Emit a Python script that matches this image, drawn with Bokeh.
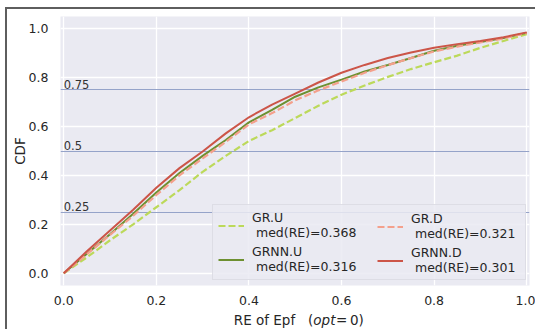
from jinja2 import Template
from bokeh.plotting import figure
from bokeh.layouts import column
from bokeh.models import (Legend, LegendItem, FixedTicker, NumeralTickFormatter, Range1d,
                          ColumnDataSource)
from bokeh.embed import file_html
from bokeh.resources import INLINE
from bokeh.core.properties import value

# Relative error grid and empirical CDF values of each estimator
re_grid = [0.00, 0.05, 0.10, 0.15, 0.20, 0.25, 0.30, 0.35, 0.40, 0.45, 0.50,
           0.55, 0.60, 0.65, 0.70, 0.75, 0.80, 0.85, 0.90, 0.95, 1.00]

cdf_gr_u = [0.000, 0.065, 0.135, 0.200, 0.270, 0.340, 0.415, 0.480, 0.541, 0.585, 0.635,
            0.685, 0.730, 0.768, 0.803, 0.835, 0.863, 0.890, 0.922, 0.950, 0.978]
cdf_grnn_u = [0.000, 0.080, 0.160, 0.243, 0.330, 0.410, 0.480, 0.545, 0.617, 0.668, 0.722,
              0.760, 0.792, 0.825, 0.852, 0.880, 0.910, 0.930, 0.946, 0.962, 0.983]
cdf_gr_d = [0.000, 0.078, 0.157, 0.235, 0.320, 0.400, 0.470, 0.537, 0.609, 0.655, 0.707,
            0.748, 0.784, 0.820, 0.851, 0.880, 0.907, 0.927, 0.944, 0.960, 0.983]
cdf_grnn_d = [0.000, 0.090, 0.175, 0.260, 0.350, 0.430, 0.498, 0.572, 0.638, 0.690, 0.735,
              0.780, 0.820, 0.852, 0.880, 0.903, 0.922, 0.937, 0.950, 0.965, 0.985]

series_names = ["GR.U", "GRNN.U", "GR.D", "GRNN.D"]
medians = [0.368, 0.316, 0.321, 0.301]
quartile_levels = [0.25, 0.5, 0.75]

x_ticks = [0.0, 0.2, 0.4, 0.6, 0.8, 1.0]
y_ticks = [0.0, 0.2, 0.4, 0.6, 0.8, 1.0]

# x-axis title, split so that the variable name can be set in italics
title_parts = ["RE of Epf\u00a0\u00a0 (", "opt", "=\u20090)"]
title_styles = ["normal", "italic", "normal"]

TEXT = "#262626"
FONT = "DejaVu Sans"

p = figure(width=535, height=307, output_backend="svg", toolbar_location=None,
           x_range=Range1d(-0.007, 1.006), y_range=Range1d(-0.05, 1.05),
           min_border_left=60, min_border_right=6, min_border_top=16, min_border_bottom=21)

p.background_fill_color = "#eaeaf2"
p.border_fill_color = "white"
p.outline_line_color = None

for ax in (p.xaxis, p.yaxis):
    ax.axis_line_color = None
    ax.major_tick_line_color = None
    ax.minor_tick_line_color = None
    ax.major_label_text_font = FONT
    ax.major_label_text_font_size = "12.5px"
    ax.major_label_text_color = TEXT
    ax.formatter = NumeralTickFormatter(format="0.0")

p.xaxis.major_label_standoff = 4
p.yaxis.major_label_standoff = 6
p.xaxis.ticker = FixedTicker(ticks=x_ticks)
p.yaxis.ticker = FixedTicker(ticks=y_ticks)

p.yaxis.axis_label = "CDF"
p.yaxis.axis_label_text_font = FONT
p.yaxis.axis_label_text_font_size = "13.5px"
p.yaxis.axis_label_text_font_style = "normal"
p.yaxis.axis_label_text_color = TEXT
p.yaxis.axis_label_standoff = -2

p.grid.grid_line_color = "white"
p.grid.grid_line_width = 1.3

# quartile reference lines with their labels
p.hspan(y=quartile_levels, line_color="#95a3c9", line_width=1.2)
p.text(x=[0.0] * len(quartile_levels), y=quartile_levels,
       text=[f"{q:g}" for q in quartile_levels],
       text_font=value(FONT), text_font_size="11.5px", text_color="#333333",
       text_baseline="bottom", text_align="left", y_offset=-1)

r_gr_u = p.line(re_grid, cdf_gr_u, line_color="#bcd95a", line_width=2.2, line_dash="7 3")
r_grnn_u = p.line(re_grid, cdf_grnn_u, line_color="#6d9030", line_width=2.0)
r_gr_d = p.line(re_grid, cdf_gr_d, line_color="#f4a08c", line_width=2.2, line_dash="7 3")
r_grnn_d = p.line(re_grid, cdf_grnn_d, line_color="#cc5548", line_width=2.0)
renderers = [r_gr_u, r_grnn_u, r_gr_d, r_grnn_d]

labels = [f"{n}\n\u00a0med(RE)={m:.3f}" for n, m in zip(series_names, medians)]
items = [LegendItem(label=l, renderers=[r]) for l, r in zip(labels, renderers)]


def make_legend(its, loc, framed):
    lg = Legend(items=its, location=loc, orientation="vertical",
                padding=5, spacing=4, margin=0,
                glyph_width=26, glyph_height=29, label_height=29,
                label_standoff=8, label_width=268 if framed else 120,
                label_text_font=FONT, label_text_font_size="12.5px",
                label_text_color=TEXT)
    if framed:
        lg.background_fill_color = "#eaeaf2"
        lg.background_fill_alpha = 0.85
        lg.border_line_color = "#cfcfd8"
        lg.border_line_width = 1
    else:
        lg.background_fill_alpha = 0
        lg.border_line_alpha = 0
    return lg


# two legend columns sharing one frame
p.add_layout(make_legend(items[:2], (152, 5), True))
p.add_layout(make_legend(items[2:], (312, 5), False))

# strip under the chart carrying the x-axis title, aligned on the same x scale
strip = figure(width=535, height=22, output_backend="svg", toolbar_location=None,
               x_range=p.x_range, y_range=Range1d(0, 1),
               x_axis_location=None, y_axis_location=None,
               min_border_left=60, min_border_right=6, min_border_top=0, min_border_bottom=0)
strip.background_fill_color = "white"
strip.border_fill_color = "white"
strip.outline_line_color = None
strip.grid.visible = False

title_src = ColumnDataSource(dict(
    x=[0.563] * len(title_parts), y=[0.45] * len(title_parts),
    text=title_parts, style=title_styles,
    align=["right", "center", "left"], dx=[-11.1, 0.0, 11.5],
))
strip.text(x="x", y="y", text="text", source=title_src, text_font_style="style",
           text_align="align", x_offset="dx", text_baseline="alphabetic",
           text_font=value(FONT), text_font_size="13.5px", text_color=TEXT)

page = column(p, strip, spacing=0)

# page frame drawn along the top and left edges
page_template = Template("""{% extends base %}
{% block postamble %}
<style>
  body::before {
    content: "";
    position: fixed;
    left: 5px; top: 7px; right: -10px; bottom: -10px;
    border-top: 2px solid #5e5e5e;
    border-left: 2px solid #5e5e5e;
    pointer-events: none;
    z-index: 1000;
  }
</style>
{% endblock %}""")

open("out.html", "w").write(file_html(page, INLINE, template=page_template))
